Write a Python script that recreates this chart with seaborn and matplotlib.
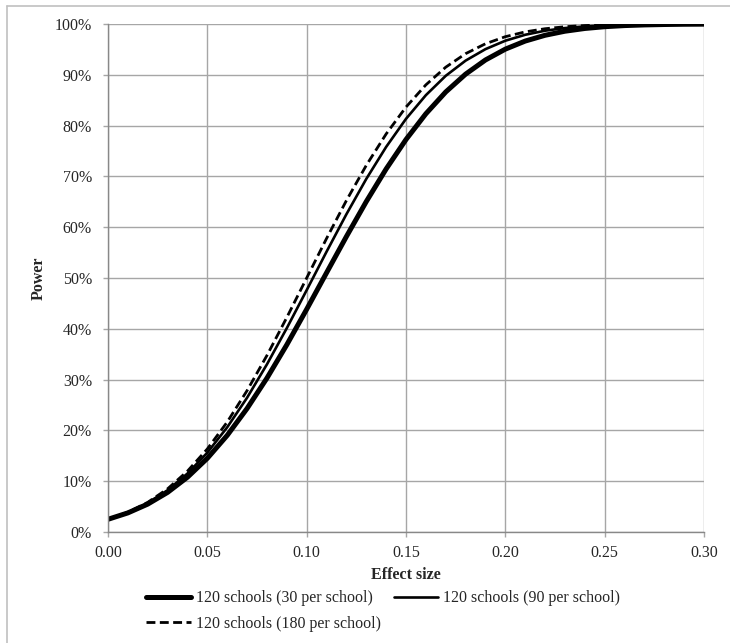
import pandas as pd
import matplotlib.pyplot as plt
import matplotlib.ticker as mtick
from matplotlib.lines import Line2D
import seaborn as sns

# Effect sizes and power values
effect_size = [0.00, 0.01, 0.02, 0.03, 0.04, 0.05, 0.06, 0.07, 0.08, 0.09, 0.10,
               0.11, 0.12, 0.13, 0.14, 0.15, 0.16, 0.17, 0.18, 0.19, 0.20,
               0.21, 0.22, 0.23, 0.24, 0.25, 0.26, 0.27, 0.28, 0.29, 0.30]

power_30 = [0.0250, 0.0376, 0.0549, 0.0780, 0.1079, 0.1451, 0.1902, 0.2431, 0.3029, 0.3686, 0.4384,
            0.5102, 0.5816, 0.6504, 0.7146, 0.7726, 0.8233, 0.8662, 0.9013, 0.9292, 0.9505,
            0.9664, 0.9778, 0.9858, 0.9912, 0.9947, 0.9969, 0.9982, 0.9990, 0.9995, 0.9997]

power_90 = [0.0250, 0.0384, 0.0571, 0.0823, 0.1151, 0.1562, 0.2061, 0.2643, 0.3300, 0.4013, 0.4761,
            0.5517, 0.6255, 0.6950, 0.7580, 0.8133, 0.8599, 0.8980, 0.9279, 0.9505, 0.9671,
            0.9788, 0.9868, 0.9920, 0.9953, 0.9974, 0.9986, 0.9992, 0.9996, 0.9998, 0.9999]

power_180 = [0.0250, 0.0389, 0.0584, 0.0850, 0.1198, 0.1635, 0.2165, 0.2783, 0.3475, 0.4223, 0.5000,
             0.5777, 0.6525, 0.7217, 0.7835, 0.8365, 0.8802, 0.9150, 0.9416, 0.9611, 0.9750,
             0.9845, 0.9907, 0.9946, 0.9970, 0.9984, 0.9991, 0.9996, 0.9998, 0.9999, 0.9999]

labels = ['120 schools (30 per school)', '120 schools (90 per school)', '120 schools (180 per school)']

df = pd.concat([
    pd.DataFrame({'Effect size': effect_size, 'Power': power_30, 'series': labels[0]}),
    pd.DataFrame({'Effect size': effect_size, 'Power': power_90, 'series': labels[1]}),
    pd.DataFrame({'Effect size': effect_size, 'Power': power_180, 'series': labels[2]}),
])

sns.set_style('whitegrid')
plt.rcParams['font.family'] = ['Liberation Serif', 'DejaVu Serif']
fs = 11.5

fig = plt.figure(figsize=(7.30, 6.43), dpi=100)
ax = fig.add_axes([108 / 730, 1 - 532 / 643, (704 - 108) / 730, (532 - 24) / 643])

styles = {labels[0]: dict(lw=3.6, ls='-'),
          labels[1]: dict(lw=1.9, ls='-'),
          labels[2]: dict(lw=2.0, ls=(0, (3.2, 1.6)))}

for name in labels:
    sns.lineplot(data=df[df['series'] == name], x='Effect size', y='Power', ax=ax,
                 color='black', linewidth=styles[name]['lw'], linestyle=styles[name]['ls'],
                 label=name, legend=False)

ax.set_xlim(0, 0.30)
ax.set_ylim(0, 1.0)
ax.set_xticks([0, 0.05, 0.10, 0.15, 0.20, 0.25, 0.30])
ax.set_yticks([i / 10 for i in range(11)])
ax.xaxis.set_major_formatter(mtick.FormatStrFormatter('%.2f'))
ax.yaxis.set_major_formatter(mtick.PercentFormatter(1.0, decimals=0))
ax.grid(True, color='#a6a6a6', linewidth=1.0)
ax.tick_params(axis='both', which='major', length=3.6, width=1, color='#a6a6a6',
               direction='out', bottom=True, left=True, labelsize=fs)
ax.tick_params(axis='y', pad=8)
ax.tick_params(axis='x', pad=6)
for side in ['top', 'right']:
    ax.spines[side].set_visible(False)
for side in ['left', 'bottom']:
    ax.spines[side].set_color('#888888')
    ax.spines[side].set_linewidth(1.0)

ax.set_xlabel('Effect size', fontweight='bold', fontsize=fs, labelpad=4)
ax.set_ylabel('Power', fontweight='bold', fontsize=fs, labelpad=6)

# legend: two items on the first row, one on the second
handles, hl = ax.get_legend_handles_labels()
order = [0, 2, 1]
fig.legend([handles[i] for i in order], [hl[i] for i in order],
           loc='upper left', bbox_to_anchor=(140 / 730, 1 - 584 / 643), ncol=2,
           frameon=False, fontsize=fs, handlelength=2.8, handletextpad=0.3,
           columnspacing=0.8, labelspacing=0.6, borderaxespad=0, borderpad=0.4)

# light border of the chart area
fig.add_artist(Line2D([7 / 730, 1.0], [1 - 6 / 643, 1 - 6 / 643], color='#c0c0c0', lw=1.2))
fig.add_artist(Line2D([7 / 730, 7 / 730], [0, 1 - 6 / 643], color='#c0c0c0', lw=1.2))

fig.savefig('out.png', dpi=100, facecolor='white')
